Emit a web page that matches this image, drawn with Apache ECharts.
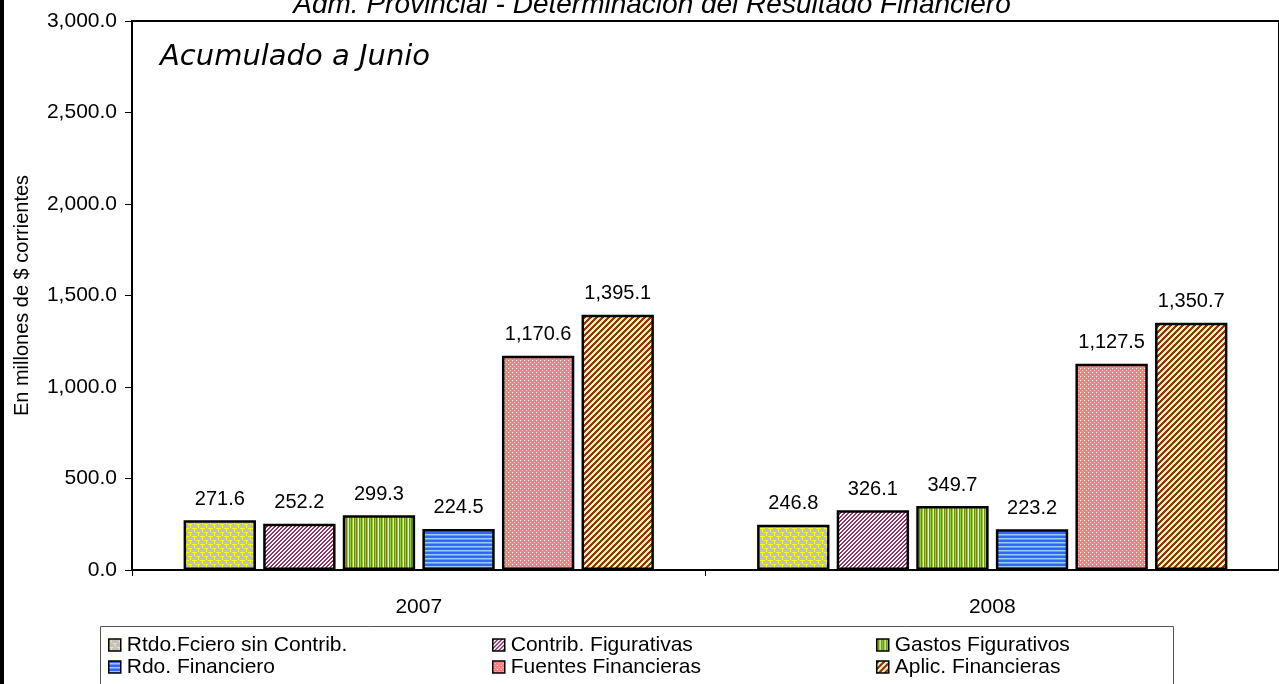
<!DOCTYPE html>
<html>
<head>
<meta charset="utf-8">
<script src="https://cdn.jsdelivr.net/npm/echarts@6/dist/echarts.min.js"></script>
<style>
  html, body { margin: 0; padding: 0; background: #fff; }
  #chart { width: 1279px; height: 684px; }
</style>
</head>
<body>
<div id="chart"></div>
<script>
const categories = ['2007', '2008']
const seriesNames = ['Rtdo.Fciero sin Contrib.', 'Contrib. Figurativas', 'Gastos Figurativos',
  'Rdo. Financiero', 'Fuentes Financieras', 'Aplic. Financieras']
const rtdoSinContrib = [271.6, 246.8]
const contribFig = [252.2, 326.1]
const gastosFig = [299.3, 349.7]
const rdoFinanciero = [224.5, 223.2]
const fuentesFin = [1170.6, 1127.5]
const aplicFin = [1395.1, 1350.7]
const yTicks = [0, 500, 1000, 1500, 2000, 2500, 3000]

// patrones de relleno tipo Excel
const makePattern = (size, draw) => {
  const c = document.createElement('canvas')
  c.width = size
  c.height = size
  const ctx = c.getContext('2d')
  draw(ctx)
  return { image: c, repeat: 'repeat' }
}
const px = (ctx, color, x, y, w, h) => { ctx.fillStyle = color; ctx.fillRect(x, y, w || 1, h || 1) }

const patterns = [
  makePattern(8, ctx => {
    px(ctx, '#c0c0c0', 0, 0, 8, 8)
    px(ctx, '#ffff00', 0, 0, 5, 1); px(ctx, '#ffff00', 2, 0, 1, 4)
    px(ctx, '#ffff00', 4, 4, 5, 1); px(ctx, '#ffff00', 6, 4, 1, 4)
  }),
  makePattern(4, ctx => {
    px(ctx, '#ffffff', 0, 0, 4, 4)
    for (let y = 0; y < 4; y++) for (let x = 0; x < 4; x++) {
      if ((x + y) % 4 < 2) px(ctx, '#993366', x, y)
    }
  }),
  makePattern(5, ctx => {
    px(ctx, '#99cc33', 0, 0, 1, 5); px(ctx, '#808000', 1, 0, 1, 5)
    px(ctx, '#99cc33', 2, 0, 1, 5); px(ctx, '#ccffcc', 3, 0, 1, 5)
    px(ctx, '#6b8e23', 4, 0, 1, 5)
  }),
  makePattern(4, ctx => {
    px(ctx, '#3366ff', 0, 0, 4, 1); px(ctx, '#3366ff', 0, 1, 4, 1)
    px(ctx, '#99ccff', 0, 2, 4, 1); px(ctx, '#6699ff', 0, 3, 4, 1)
  }),
  makePattern(4, ctx => {
    px(ctx, '#ff8080', 0, 0, 4, 4)
    px(ctx, '#ffffff', 0, 0); px(ctx, '#ffcccc', 2, 2)
    px(ctx, '#ff6666', 3, 1)
  }),
  makePattern(6, ctx => {
    px(ctx, '#ccffcc', 0, 0, 6, 6)
    for (let y = 0; y < 6; y++) for (let x = 0; x < 6; x++) {
      if ((x + y) % 6 < 3) px(ctx, '#993300', x, y)
    }
  })
]

const values = [rtdoSinContrib, contribFig, gastosFig, rdoFinanciero, fuentesFin, aplicFin]
const fmt = v => Number(v).toLocaleString('en-US', { minimumFractionDigits: 1, maximumFractionDigits: 1 })
const font = 'Liberation Sans, Arial, sans-serif'

const series = seriesNames.map((name, i) => ({
  name: name,
  type: 'bar',
  data: values[i],
  barGap: '10%',
  barCategoryGap: '18%',
  itemStyle: { color: patterns[i], borderColor: '#000', borderWidth: 2.5 },
  label: {
    show: true,
    position: 'top',
    distance: 11,
    color: '#000',
    fontFamily: font,
    fontSize: 20,
    formatter: p => fmt(p.value)
  }
}))

const legendCol = (names, left) => ({
  orient: 'vertical',
  left: left,
  top: 634,
  padding: 0,
  data: names,
  itemWidth: 12,
  itemHeight: 12,
  itemGap: 0,
  icon: 'rect',
  itemStyle: { borderColor: '#000', borderWidth: 1.5 },
  textStyle: { color: '#000', fontFamily: font, fontSize: 21, lineHeight: 22, padding: [0, 0, 0, 1] }
})

const chart = echarts.init(document.getElementById('chart'))
chart.setOption({
  animation: false,
  backgroundColor: '#fff',
  grid: { left: 132, top: 21, right: -5, bottom: 114, show: true, borderColor: '#000', borderWidth: 2 },
  legend: [
    legendCol([seriesNames[0], seriesNames[3]], 108),
    legendCol([seriesNames[1], seriesNames[4]], 492),
    legendCol([seriesNames[2], seriesNames[5]], 876)
  ],
  xAxis: {
    type: 'category',
    data: categories,
    axisLine: { lineStyle: { color: '#000', width: 2 } },
    axisTick: { show: true, length: 6, lineStyle: { color: '#000' } },
    axisLabel: { color: '#000', fontFamily: font, fontSize: 21, margin: 27 }
  },
  yAxis: {
    type: 'value',
    min: yTicks[0],
    max: yTicks[yTicks.length - 1],
    interval: 500,
    name: 'En millones de $ corrientes',
    nameLocation: 'middle',
    nameGap: 100,
    nameTextStyle: { color: '#000', fontFamily: font, fontSize: 20 },
    splitLine: { show: false },
    axisLine: { show: true, lineStyle: { color: '#000', width: 2 } },
    axisTick: { show: true, length: 7, lineStyle: { color: '#000' } },
    axisLabel: { color: '#000', fontFamily: font, fontSize: 21, margin: 15, formatter: v => fmt(v) }
  },
  graphic: [
    { type: 'rect', left: 0, top: 0, shape: { width: 4, height: 684 }, style: { fill: '#000' } },
    { type: 'rect', shape: { x: 100.5, y: 626.5, width: 1073, height: 70 }, style: { fill: 'none', stroke: '#555', lineWidth: 1 }, z: 0 },
    {
      type: 'text', x: 652, y: 5,
      style: { text: 'Adm. Provincial - Determinación del Resultado Financiero', fill: '#000',
        font: 'italic 28px Liberation Sans, Arial, sans-serif', textAlign: 'center', textVerticalAlign: 'middle' }
    },
    {
      type: 'text', x: 160, y: 57,
      style: { text: 'Acumulado a Junio', fill: '#000',
        font: 'italic 29px DejaVu Sans, sans-serif', textAlign: 'left', textVerticalAlign: 'middle' }
    }
  ],
  series: series
})
</script>
</body>
</html>
